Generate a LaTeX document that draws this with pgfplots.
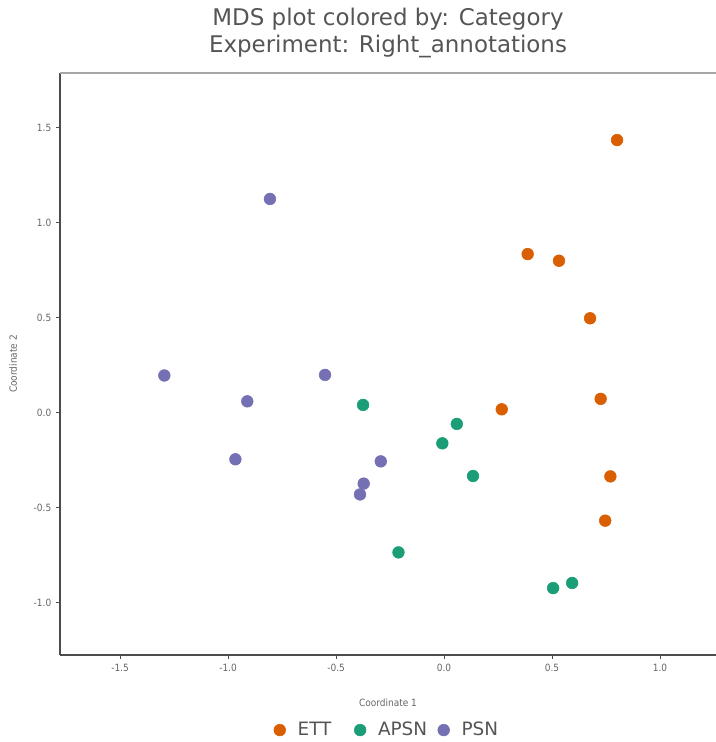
\documentclass[border=0pt]{standalone}
\usepackage{fontspec}
\setmainfont{DejaVu Sans}
\newfontfamily\condfont{DejaVu Sans Condensed}
\usepackage{pgfplots}
\pgfplotsset{compat=1.18}
\definecolor{ett}{HTML}{D95F02}
\definecolor{apsn}{HTML}{1B9E77}
\definecolor{psn}{HTML}{7570B3}
\definecolor{txtgray}{HTML}{555555}
\definecolor{tickgray}{HTML}{666666}

\begin{document}
\begin{tikzpicture}
\begin{axis}[
  at={(0,0)}, anchor=south west,
  scale only axis, width=492pt, height=436.5pt,
  xmin=-1.778, xmax=1.259, ymin=-1.275, ymax=1.788,
  xtick={-1.5,-1,-0.5,0,0.5,1},
  ytick={-1,-0.5,0,0.5,1,1.5},
  axis x line*=bottom, axis y line*=left,
  axis line style={draw=black!70, line width=0.9pt, -},
  tick style={draw=black!70, line width=0.8pt},
  tick align=outside, major tick length=3pt,
  ticklabel style={font=\condfont\fontsize{7.5}{9}\selectfont, text=tickgray},
  /pgf/number format/.cd, fixed, fixed zerofill, precision=1,
  assume math mode=true, /pgfplots/.cd,
  xlabel={Coordinate 1}, ylabel={Coordinate 2},
  xlabel style={at={(0.5,-0.0825)}, anchor=center},
  ylabel style={at={(-0.0716,0.5)}, anchor=center, rotate=0},
  label style={font=\condfont\fontsize{7.5}{9}\selectfont, text=tickgray},
  title={MDS plot colored by: Category\\Experiment: Right\_annotations},
  title style={font=\fontsize{17.2}{20.5}\selectfont, text=txtgray, align=center,
    at={(0.5,1)}, anchor=south, yshift=1.5pt},
  legend columns=3,
  legend style={draw=none, fill=none, at={(0.499,-0.129)}, anchor=center,
    font=\fontsize{13.8}{16}\selectfont, text=txtgray,
    /tikz/every odd column/.append style={column sep=7pt},
    /tikz/every even column/.append style={column sep=6pt}},
  legend cell align=left,
  clip=false,
]
\addplot[only marks, mark=*, mark size=4.4pt, color=ett, mark options={fill=ett, draw=ett}] coordinates {
  (0.801,1.435) (0.387,0.835) (0.532,0.800) (0.676,0.497)
  (0.267,0.018) (0.725,0.073) (0.770,-0.335) (0.746,-0.568)
};
\addlegendentry{\makebox[34.5pt][l]{ETT}}
\addplot[only marks, mark=*, mark size=4.4pt, color=apsn, mark options={fill=apsn, draw=apsn}] coordinates {
  (-0.375,0.041) (0.059,-0.059) (-0.008,-0.161) (0.134,-0.333)
  (-0.211,-0.735) (0.593,-0.896) (0.505,-0.923)
};
\addlegendentry{APSN}
\addplot[only marks, mark=*, mark size=4.4pt, color=psn, mark options={fill=psn, draw=psn}] coordinates {
  (-0.806,1.125) (-1.295,0.196) (-0.551,0.199) (-0.911,0.060)
  (-0.966,-0.245) (-0.293,-0.256) (-0.372,-0.373) (-0.389,-0.430)
};
\addlegendentry{PSN}
\draw[black!35, line width=0.9pt] (rel axis cs:0,1) -- (rel axis cs:1,1);
\end{axis}
\pgfresetboundingbox
\useasboundingbox (-45pt,-65.25pt) rectangle (492pt,491.25pt);
\end{tikzpicture}
\end{document}
